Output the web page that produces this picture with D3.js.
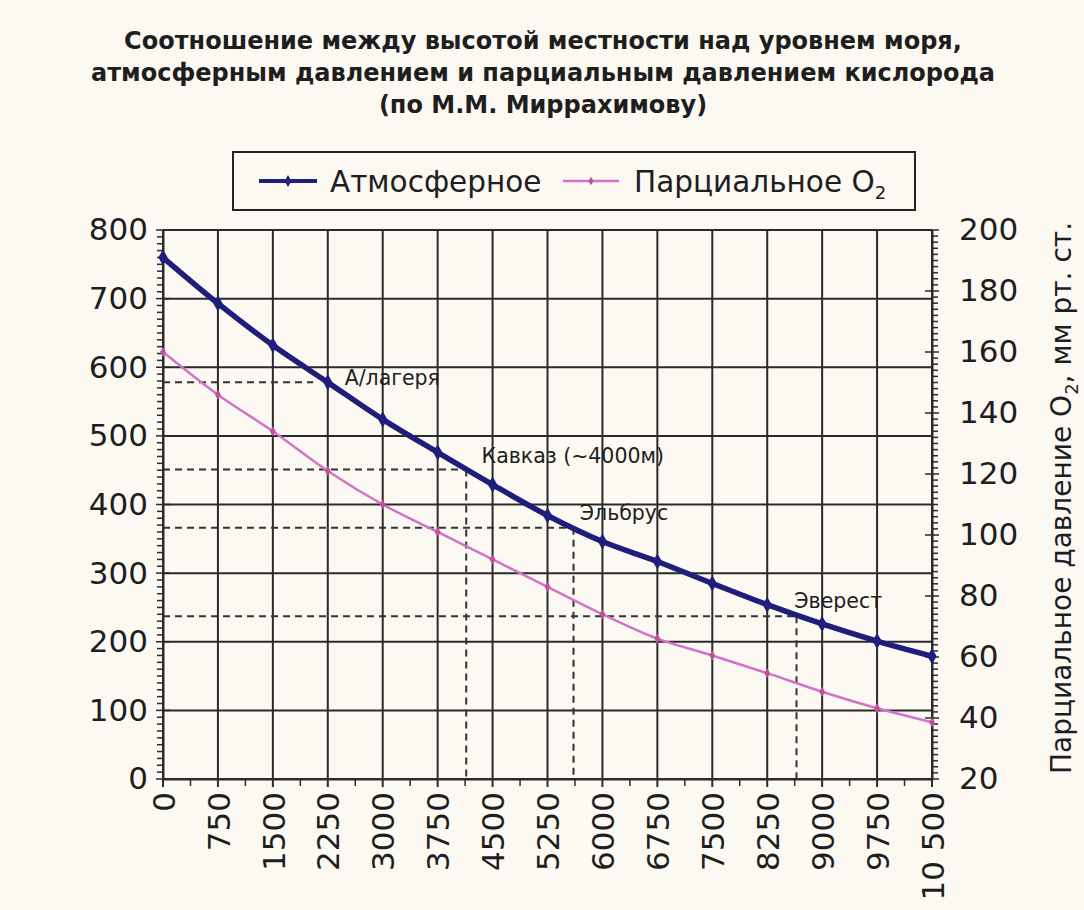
<!DOCTYPE html>
<html><head><meta charset="utf-8">
<script src="https://cdn.jsdelivr.net/npm/d3@7"></script>
<style>
html,body{margin:0;padding:0;background:#fcf8f2;}
svg{display:block;}
text{font-family:"DejaVu Sans",sans-serif;fill:#1e1e1e;}
</style></head>
<body>
<svg id="chart" width="1084" height="910"></svg>
<script>
// ---- data ----
const altitudes = [0,750,1500,2250,3000,3750,4500,5250,6000,6750,7500,8250,9000,9750,10500];
const xTickLabels = ["0","750","1500","2250","3000","3750","4500","5250","6000","6750","7500","8250","9000","9750","10 500"];
const atmospheric = [760,693,632,578,524,476,429,384,346,317,285,254,226,201,179];
const partialO2 = [160,146,134,121,110,101,92,83,74,66,60.5,54.7,48.6,43.2,38.6];
const leftTicks = [0,100,200,300,400,500,600,700,800];
const rightTicks = [20,40,60,80,100,120,140,160,180,200];
const titleLines = ["Соотношение между высотой местности над уровнем моря,",
  "атмосферным давлением и парциальным давлением кислорода",
  "(по М.М. Миррахимову)"];
const seriesNames = ["Атмосферное","Парциальное O"];
const refNames = ["А/лагеря","Кавказ (~4000м)","Эльбрус","Эверест"];
const refAltitude = [2050,4140,5605,8650];
const refPressure = [578,451,366,237];
const refVertical = [false,true,true,true];
const refLabelAlt = [2480,4350,5690,8620];
const refLabelP = [574,460,377,249];

// ---- layout ----
const svg = d3.select("#chart");
const L=163, R=932, T=230, B=779;
const x = d3.scaleLinear().domain([0,10500]).range([L,R]);
const yL = d3.scaleLinear().domain([0,800]).range([B,T]);
const yR = d3.scaleLinear().domain([20,200]).range([B,T]);
const gridColor="#2a2a2a", blue="#1f1e7a", pink="#d272c8";

svg.append("rect").attr("width",1084).attr("height",910).attr("fill","#fcf8f2");

// title
svg.append("g").selectAll("text").data(titleLines).join("text")
  .attr("x",543).attr("y",(d,i)=>49+i*32).attr("text-anchor","middle")
  .style("font-weight","bold").style("font-size","24px").text(d=>d);

// legend
const lg = svg.append("g");
lg.append("rect").attr("x",233).attr("y",152).attr("width",682).attr("height",58)
  .attr("fill","#fcf8f2").attr("stroke","#222").attr("stroke-width",2);
lg.append("line").attr("x1",259).attr("x2",317).attr("y1",181).attr("y2",181).attr("stroke",blue).attr("stroke-width",4);
lg.append("path").attr("d",d3.symbol(d3.symbolDiamond,40)()).attr("transform","translate(288,181)").attr("fill",blue);
lg.append("text").attr("x",330).attr("y",192).style("font-size","29.5px").text(seriesNames[0]);
lg.append("line").attr("x1",563).attr("x2",619).attr("y1",181).attr("y2",181).attr("stroke",pink).attr("stroke-width",2.5);
lg.append("path").attr("d",d3.symbol(d3.symbolDiamond,22)()).attr("transform","translate(591,181)").attr("fill","#c0509a");
const t2 = lg.append("text").attr("x",634).attr("y",192).style("font-size","29.5px").text(seriesNames[1]);
t2.append("tspan").attr("dy",7).style("font-size","18px").text("2");

// grid
const g = svg.append("g");
g.selectAll(".hg").data(leftTicks).join("line").attr("x1",L).attr("x2",R)
  .attr("y1",d=>yL(d)).attr("y2",d=>yL(d)).attr("stroke",gridColor).attr("stroke-width",2);
g.selectAll(".vg").data(altitudes).join("line").attr("x1",d=>x(d)).attr("x2",d=>x(d))
  .attr("y1",T).attr("y2",B+8).attr("stroke",gridColor).attr("stroke-width",2);

// axes
const axL = d3.axisLeft(yL).tickValues(leftTicks).tickSize(0).tickPadding(15);
const axLg = svg.append("g").attr("transform",`translate(${L},0)`).call(axL);
axLg.select(".domain").attr("stroke",gridColor).attr("stroke-width",2);
axLg.selectAll("text").style("font-size","31px").style("font-family","DejaVu Sans").attr("fill","#1e1e1e");
// minor ticks left
svg.append("g").selectAll("line").data(d3.range(0,801,10)).join("line")
  .attr("x1",d=>d%100===0?L-7:L-6).attr("x2",d=>d%100===0?L+7:L)
  .attr("y1",d=>yL(d)).attr("y2",d=>yL(d)).attr("stroke",gridColor).attr("stroke-width",1.5);

const axR = d3.axisRight(yR).tickValues(rightTicks).tickSize(0).tickPadding(27);
const axRg = svg.append("g").attr("transform",`translate(${R},0)`).call(axR);
axRg.select(".domain").attr("stroke",gridColor).attr("stroke-width",2);
axRg.selectAll("text").style("font-size","31px").style("font-family","DejaVu Sans").attr("fill","#1e1e1e");
svg.append("g").selectAll("line").data(d3.range(20,201,2)).join("line")
  .attr("x1",d=>d%20===0?R-7:R).attr("x2",d=>d%20===0?R+7:R+6)
  .attr("y1",d=>yR(d)).attr("y2",d=>yR(d)).attr("stroke",gridColor).attr("stroke-width",1.5);

const axB = d3.axisBottom(x).tickValues(altitudes).tickSize(0).tickFormat((d,i)=>xTickLabels[i]);
const axBg = svg.append("g").attr("transform",`translate(0,${B})`).call(axB);
axBg.select(".domain").attr("stroke",gridColor).attr("stroke-width",2);
axBg.selectAll("text").style("font-size","31px").style("font-family","DejaVu Sans").attr("fill","#1e1e1e")
  .attr("text-anchor","end").attr("transform","rotate(-90)").attr("x",-13).attr("y",0).attr("dy","0.36em");
svg.append("g").selectAll("line").data(d3.range(375,10500,750)).join("line")
  .attr("x1",d=>x(d)).attr("x2",d=>x(d)).attr("y1",B).attr("y2",B+7).attr("stroke",gridColor).attr("stroke-width",1.5);

// right axis title
const rt = svg.append("text").attr("transform","translate(1071,498) rotate(-90)").attr("text-anchor","middle")
  .style("font-size","28px");
rt.append("tspan").text("Парциальное давление O");
rt.append("tspan").attr("dy",7).style("font-size","18px").text("2");
rt.append("tspan").attr("dy",-7).text(", мм рт. ст.");

// reference dashed lines
const refs = refNames.map((n,i)=>({n,alt:refAltitude[i],p:refPressure[i],v:refVertical[i],la:refLabelAlt[i],lp:refLabelP[i]}));
const rg = svg.append("g");
rg.selectAll(".rh").data(refs).join("line").attr("x1",L).attr("x2",d=>x(d.alt))
  .attr("y1",d=>yL(d.p)).attr("y2",d=>yL(d.p)).attr("stroke","#333").attr("stroke-width",2).attr("stroke-dasharray","7,5");
rg.selectAll(".rv").data(refs.filter(d=>d.v)).join("line").attr("x1",d=>x(d.alt)).attr("x2",d=>x(d.alt))
  .attr("y1",d=>yL(d.p)).attr("y2",B).attr("stroke","#333").attr("stroke-width",2).attr("stroke-dasharray","7,5");

// series
const lineL = d3.line().x((d,i)=>x(altitudes[i])).y(d=>yL(d)).curve(d3.curveMonotoneX);
const lineR = d3.line().x((d,i)=>x(altitudes[i])).y(d=>yR(d)).curve(d3.curveMonotoneX);
svg.append("path").datum(partialO2).attr("d",lineR).attr("fill","none").attr("stroke",pink).attr("stroke-width",2.5);
svg.append("g").selectAll("path").data(partialO2).join("path")
  .attr("d",d3.symbol(d3.symbolDiamond,30)()).attr("transform",(d,i)=>`translate(${x(altitudes[i])},${yR(d)})`).attr("fill","#c0509a");
svg.append("path").datum(atmospheric).attr("d",lineL).attr("fill","none").attr("stroke",blue).attr("stroke-width",5.5);
svg.append("g").selectAll("path").data(atmospheric).join("path")
  .attr("d",d3.symbol(d3.symbolDiamond,75)()).attr("transform",(d,i)=>`translate(${x(altitudes[i])},${yL(d)})`).attr("fill",blue);

// labels
rg.selectAll(".rl").data(refs).join("text").attr("x",d=>x(d.la)).attr("y",d=>yL(d.lp))
  .style("font-size","20.5px").text(d=>d.n);
</script>
</body></html>
